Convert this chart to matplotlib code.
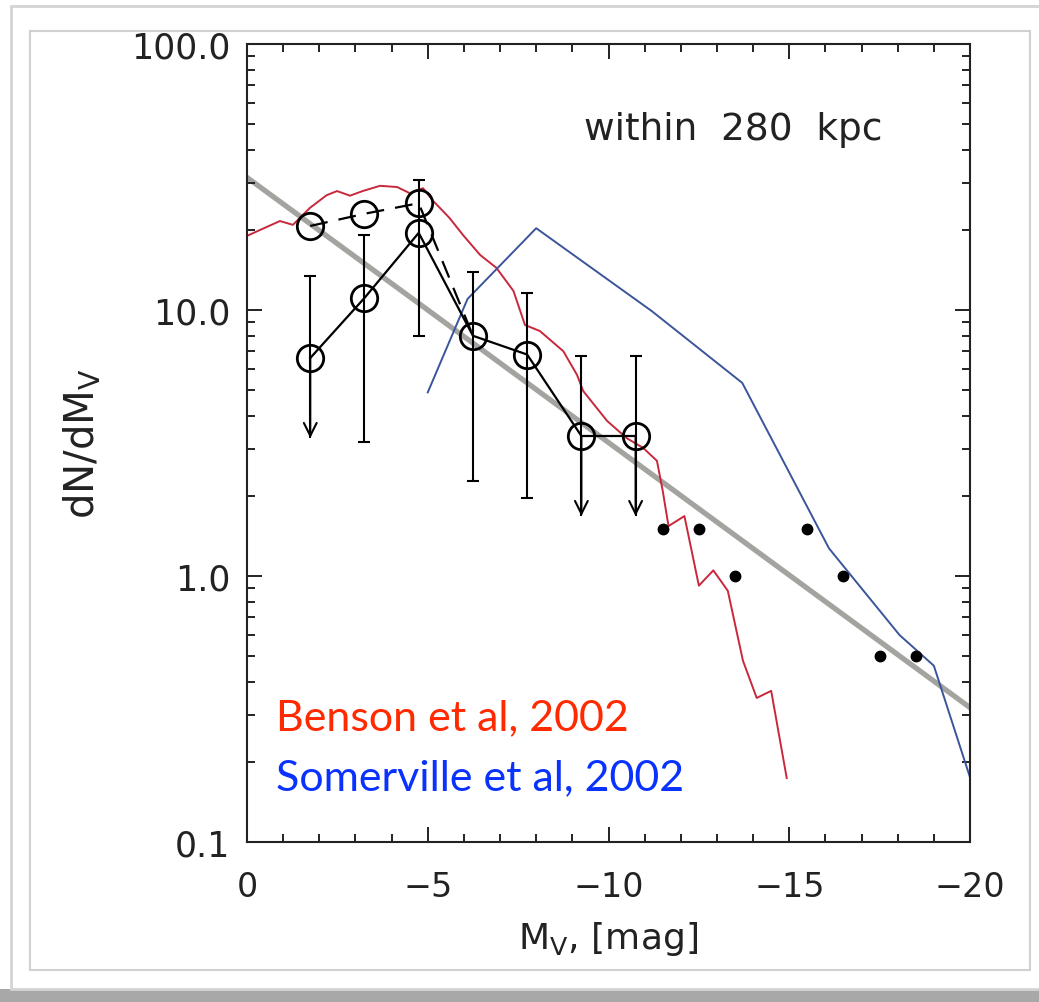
import matplotlib
matplotlib.use('Agg')
import matplotlib.pyplot as plt
from matplotlib.patches import Rectangle
from matplotlib.ticker import MultipleLocator, FixedLocator, LogLocator, NullFormatter

plt.rcParams['font.family'] = ['DejaVu Sans']
plt.rcParams['mathtext.default'] = 'regular'

# observed satellite luminosity function (open circles)
mv_bins = [-1.75, -3.25, -4.75, -6.25, -7.75, -9.25, -10.75]
obs_dn = [6.6, 11.1, 19.5, 8.0, 6.8, 3.36, 3.36]
err_hi = [13.4, 19.1, 30.8, 13.9, 11.6, 6.7, 6.7]
err_lo = [3.3, 3.2, 8.0, 2.28, 1.96, 1.68, 1.68]
upper_limit = [True, False, False, False, False, True, True]

# corrected points (dashed)
corr_mv = [-1.75, -3.25, -4.75, -6.25]
corr_dn = [20.7, 23.0, 25.2, 8.0]

# bright satellites (filled dots)
bright_mv = [-11.5, -12.5, -13.5, -15.5, -16.5, -17.5, -18.5]
bright_dn = [1.5, 1.5, 1.0, 1.5, 1.0, 0.5, 0.5]

# power-law fit (grey)
fit_mv = [0, -20]
fit_dn = [31.5, 0.32]

# Benson et al 2002 (red)
benson_mv = [0.0, -0.91, -1.27, -1.74, -2.2, -2.49, -2.85, -3.2, -3.68, -4.15, -4.5,
             -4.87, -5.15, -5.6, -5.98, -6.45, -6.9, -7.37, -7.69, -8.1, -8.75, -9.13,
             -9.3, -9.96, -10.5, -10.96, -11.34, -11.5, -11.66, -12.1, -12.5, -12.9,
             -13.3, -13.72, -14.1, -14.5, -14.93]
benson_dn = [19.0, 21.6, 20.9, 24.2, 27.0, 28.0, 26.9, 28.0, 29.3, 29.0, 27.5,
             28.7, 25.7, 22.2, 19.1, 16.1, 14.4, 11.8, 8.78, 8.34, 7.0, 5.7,
             4.96, 3.83, 3.3, 3.03, 2.71, 2.09, 1.54, 1.68, 0.92, 1.05,
             0.88, 0.48, 0.348, 0.37, 0.174]

# Somerville et al 2002 (blue)
somer_mv = [-5.0, -6.1, -8.0, -11.2, -13.7, -16.1, -18.05, -19.0, -20.0]
somer_dn = [4.9, 11.0, 20.3, 9.9, 5.32, 1.27, 0.60, 0.46, 0.175]

fig = plt.figure(figsize=(10.39, 10.03), dpi=100)

# picture frame and shadow
fig.patches.append(Rectangle((0.0, 0.0), 1.0, 0.013, transform=fig.transFigure,
                             facecolor='#a8a8a8', edgecolor='none', zorder=-2))
fig.patches.append(Rectangle((11 / 1039, 0.013), 1.0, 0.98, transform=fig.transFigure,
                             facecolor='white', edgecolor='#d4d4d4', lw=2, zorder=-2))
fig.patches.append(Rectangle((30 / 1039, 1 - 971 / 1003), 1000 / 1039, 939 / 1003,
                             transform=fig.transFigure, facecolor='white',
                             edgecolor='#d0d0d0', lw=1.5, zorder=-1))

ax = fig.add_axes([247 / 1039, 1 - 843 / 1003, 723 / 1039, 798 / 1003])
ax.set_yscale('log')
ax.set_xlim(0, -20)
ax.set_ylim(0.1, 100)

ax.plot(fit_mv, fit_dn, color='#a3a3a0', lw=3.8, zorder=1)
ax.plot(benson_mv, benson_dn, color='#c8283c', lw=1.4, zorder=2)
ax.plot(somer_mv, somer_dn, color='#3a559a', lw=1.4, zorder=2)

ax.plot(corr_mv, corr_dn, color='black', lw=1.6, ls=(0, (8, 5)), zorder=3)
ax.plot(corr_mv[:3], corr_dn[:3], 'o', ms=19, mfc='none', mec='black', mew=2, zorder=4)

for x, y, hi, lo, lim in zip(mv_bins, obs_dn, err_hi, err_lo, upper_limit):
    ax.vlines(x, lo, hi, color='black', lw=1.5, zorder=3)
    ax.plot(x, hi, '_', ms=9, mew=1.5, color='black', zorder=3)
    if lim:
        ax.annotate('', xy=(x, lo), xytext=(x, y),
                    arrowprops=dict(arrowstyle='->', lw=1.5, color='black',
                                    mutation_scale=23, shrinkA=0, shrinkB=0))
    else:
        ax.plot(x, lo, '_', ms=9, mew=1.5, color='black', zorder=3)

ax.plot(mv_bins, obs_dn, '-', color='black', lw=1.6, zorder=3)
ax.plot(mv_bins, obs_dn, 'o', ms=19, mfc='none', mec='black', mew=2, zorder=4)
ax.plot(bright_mv, bright_dn, 'o', ms=7.5, color='black', zorder=4)

ax.text(0.672, 0.893, 'within  280  kpc', transform=ax.transAxes, fontsize=27,
        color='#222222', ha='center', va='center')
ax.text(0.04, 0.157, 'Benson et al, 2002', transform=ax.transAxes, fontsize=31,
        color='#ff2a00', family='Lato', va='center')
ax.text(0.04, 0.081, 'Somerville et al, 2002', transform=ax.transAxes, fontsize=31,
        color='#0a32ff', family='Lato', va='center')

ax.xaxis.set_major_locator(MultipleLocator(5))
ax.xaxis.set_minor_locator(MultipleLocator(1))
ax.xaxis.set_major_formatter(plt.FuncFormatter(lambda v, p: f'{v:.0f}'.replace('-', '\u2212')))
ax.yaxis.set_major_locator(FixedLocator([0.1, 1, 10, 100]))
ax.yaxis.set_major_formatter(plt.FuncFormatter(lambda v, p: f'{v:.1f}'))
ax.yaxis.set_minor_locator(LogLocator(base=10, subs=range(2, 10)))
ax.yaxis.set_minor_formatter(NullFormatter())

ax.tick_params(which='both', direction='in', top=True, right=True, width=1.4,
               colors='#222222')
ax.tick_params(which='major', length=11)
ax.tick_params(which='minor', length=6)
ax.tick_params(axis='x', which='major', pad=20, labelsize=24)
ax.tick_params(axis='y', which='major', pad=12, labelsize=25)
for s in ax.spines.values():
    s.set_linewidth(1.5)
    s.set_color('#222222')

ax.set_xlabel('M$_V$, [mag]', fontsize=26, labelpad=12, color='#222222')
ax.set_ylabel('dN/dM$_V$', fontsize=29, labelpad=20, color='#222222')

fig.savefig('out.png', dpi=100)
